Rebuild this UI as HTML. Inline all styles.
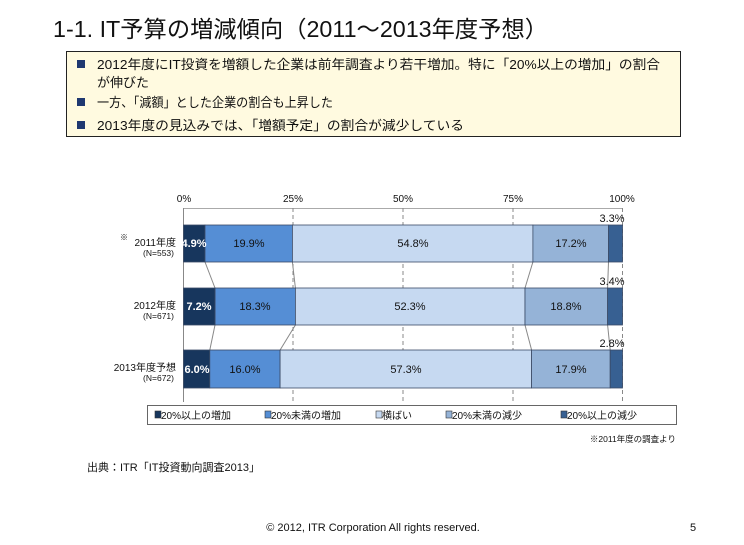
<!DOCTYPE html>
<html><head><meta charset="utf-8"><style>
body{margin:0;background:#fff;}
svg text{font-family:"Liberation Sans","Noto Sans CJK JP",sans-serif;}
</style></head><body>
<svg width="744" height="540" viewBox="0 0 744 540" xmlns="http://www.w3.org/2000/svg">
<rect width="744" height="540" fill="#fff"/>
<text x="53" y="37" font-size="23" fill="#111" textLength="495" lengthAdjust="spacingAndGlyphs">1-1. IT予算の増減傾向（2011～2013年度予想）</text>
<rect x="66.5" y="51.5" width="614" height="85" fill="#fffae0" stroke="#222" stroke-width="1"/>
<g font-size="13" fill="#111">
<rect x="77" y="60" width="8" height="8" fill="#1f3870"/>
<text x="97" y="69" textLength="563" lengthAdjust="spacingAndGlyphs">2012年度にIT投資を増額した企業は前年調査より若干増加。特に「20%以上の増加」の割合</text>
<text x="97" y="87">が伸びた</text>
<rect x="77" y="98" width="8" height="8" fill="#1f3870"/>
<text x="97" y="107" textLength="236" lengthAdjust="spacingAndGlyphs">一方、「減額」とした企業の割合も上昇した</text>
<rect x="77" y="121" width="8" height="8" fill="#1f3870"/>
<text x="97" y="130" textLength="367" lengthAdjust="spacingAndGlyphs">2013年度の見込みでは、「増額予定」の割合が減少している</text>
</g>
<g font-size="10" fill="#111" text-anchor="middle">
<text x="184" y="202">0%</text><text x="293" y="202">25%</text><text x="403" y="202">50%</text><text x="513" y="202">75%</text><text x="622" y="202">100%</text>
</g>
<line x1="183.5" y1="208.5" x2="622.5" y2="208.5" stroke="#aaa"/>
<g stroke="#888" stroke-dasharray="4,3" stroke-width="1">
<line x1="293" y1="208" x2="293" y2="402"/><line x1="403" y1="208" x2="403" y2="402"/><line x1="513" y1="208" x2="513" y2="402"/><line x1="622.5" y1="208" x2="622.5" y2="402"/>
</g>
<line x1="183.5" y1="208" x2="183.5" y2="402" stroke="#888"/>
<g stroke="#888" stroke-width="1">
<line x1="205" y1="262" x2="215" y2="288"/><line x1="292.4" y1="262" x2="295.4" y2="288"/><line x1="532.9" y1="262" x2="525" y2="288"/><line x1="608.5" y1="262" x2="607.6" y2="288"/>
<line x1="215" y1="325" x2="209.8" y2="350"/><line x1="295.4" y1="325" x2="280.1" y2="350"/><line x1="525" y1="325" x2="531.6" y2="350"/><line x1="607.6" y1="325" x2="610.2" y2="350"/>
</g>
<g stroke="#3a4a66" stroke-width="0.8">
<rect x="183.5" y="225" width="21.5" height="37" fill="#17365d"/>
<rect x="205" y="225" width="87.4" height="37" fill="#558ed5"/>
<rect x="292.4" y="225" width="240.5" height="37" fill="#c6d9f1"/>
<rect x="532.9" y="225" width="75.6" height="37" fill="#95b3d7"/>
<rect x="608.5" y="225" width="14" height="37" fill="#376092"/>
<rect x="183.5" y="288" width="31.6" height="37" fill="#17365d"/>
<rect x="215.1" y="288" width="80.3" height="37" fill="#558ed5"/>
<rect x="295.4" y="288" width="229.6" height="37" fill="#c6d9f1"/>
<rect x="525" y="288" width="82.6" height="37" fill="#95b3d7"/>
<rect x="607.6" y="288" width="14.9" height="37" fill="#376092"/>
<rect x="183.5" y="350" width="26.3" height="38" fill="#17365d"/>
<rect x="209.8" y="350" width="70.3" height="38" fill="#558ed5"/>
<rect x="280.1" y="350" width="251.5" height="38" fill="#c6d9f1"/>
<rect x="531.6" y="350" width="78.6" height="38" fill="#95b3d7"/>
<rect x="610.2" y="350" width="12.3" height="38" fill="#376092"/>
</g>
<g font-size="11" text-anchor="middle" fill="#111">
<text x="194" y="247" fill="#fff" font-weight="bold">4.9%</text>
<text x="249" y="247">19.9%</text><text x="413" y="247">54.8%</text><text x="571" y="247">17.2%</text>
<text x="199" y="310" fill="#fff" font-weight="bold">7.2%</text>
<text x="255" y="310">18.3%</text><text x="410" y="310">52.3%</text><text x="566" y="310">18.8%</text>
<text x="197" y="373" fill="#fff" font-weight="bold">6.0%</text>
<text x="245" y="373">16.0%</text><text x="406" y="373">57.3%</text><text x="571" y="373">17.9%</text>
<text x="612" y="222">3.3%</text><text x="612" y="285">3.4%</text><text x="612" y="347">2.8%</text>
</g>
<g font-size="10" text-anchor="end" fill="#111">
<text x="176" y="246">2011年度</text><text x="174" y="256" font-size="8.5">(N=553)</text>
<text x="120" y="240" font-size="8" text-anchor="start">※</text>
<text x="176" y="309">2012年度</text><text x="174" y="319" font-size="8.5">(N=671)</text>
<text x="176" y="371">2013年度予想</text><text x="174" y="381" font-size="8.5">(N=672)</text>
</g>
<rect x="147.5" y="405.5" width="529" height="19" fill="#fff" stroke="#666"/>
<g font-size="10" fill="#111" stroke="#333" stroke-width="0.6">
<rect x="155" y="411" width="6" height="7" fill="#17365d"/><rect x="265" y="411" width="6" height="7" fill="#558ed5"/><rect x="376" y="411" width="6" height="7" fill="#c6d9f1"/><rect x="446" y="411" width="6" height="7" fill="#95b3d7"/><rect x="561" y="411" width="6" height="7" fill="#376092"/>
</g>
<g font-size="10" fill="#111">
<text x="161" y="419">20%以上の増加</text><text x="271" y="419">20%未満の増加</text><text x="382" y="419">横ばい</text><text x="452" y="419">20%未満の減少</text><text x="567" y="419">20%以上の減少</text>
<text x="676" y="442" font-size="8.5" text-anchor="end">※2011年度の調査より</text>
<text x="87" y="471" font-size="11">出典：ITR「IT投資動向調査2013」</text>
<text x="373" y="531" font-size="11" text-anchor="middle">© 2012, ITR Corporation  All rights reserved.</text>
<text x="690" y="531" font-size="11">5</text>
</g>
</svg>
</body></html>
